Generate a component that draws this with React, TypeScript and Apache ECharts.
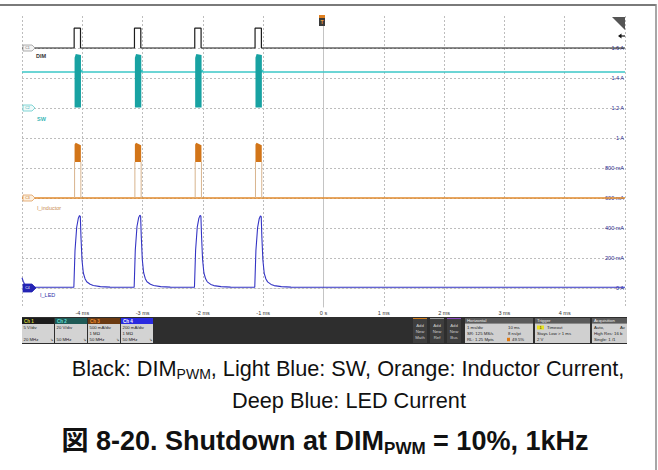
import React, { useEffect, useRef } from 'react';
import * as echarts from 'echarts';

// ---------- axes / scale data ----------
const timeWindowMs = [-5, 5];
const timeTicks = [-4, -3, -2, -1, 0, 1, 2, 3, 4];
const timeTickLabels = ['-4 ms', '-3 ms', '-2 ms', '-1 ms', '0 s', '1 ms', '2 ms', '3 ms', '4 ms'];
const gridDivs = [0, 1, 2, 3, 4, 5, 6, 7, 8];
const ch4ScaleLabels = ['0 A', '200 mA', '400 mA', '600 mA', '800 mA', '1 A', '1.2 A', '1.4 A', '1.6 A'];
const screenDivRange = [-19 / 30, 272 / 30];

// channel offsets (divisions) and scales (units / div)
const ch1Offset = 8, ch1PerDiv = 5; // V
const ch2Offset = 6, ch2PerDiv = 20; // V
const ch3Offset = 3, ch3PerDiv = 0.5; // A
const ch4Offset = 0, ch4PerDiv = 200; // mA

// ---------- Ch1 : DIM PWM ----------
const dimRiseMs = [-4.135, -3.135, -2.135, -1.135];
const dimFallMs = [-4.03, -3.03, -2.03, -1.03];
const dimLowV = 0;
const dimHighV = 3.3;

// ---------- Ch2 : SW ----------
const swIdleV = 24;
const swBurstStartMs = [-4.128, -3.128, -2.128, -1.128];
const swBurstEndMs = [-4.022, -3.022, -2.022, -1.022];
const swBurstLowV = 0.3;
const swBurstTopStartV = 33.5;
const swBurstTopV = 36;
const swBurstTopEndV = 35.3;
const swBumpStartMs = [-4.02, -3.02, -2.02, -1.02];
const swBumpPeakMs = [-4.012, -3.012, -2.012, -1.012];
const swBumpEndMs = [-4.0, -3.0, -2.0, -1.0];
const swBumpV = 25.3;

// ---------- Ch3 : Inductor current ----------
const indIdleA = 0;
const indBurstStartMs = [-4.128, -3.128, -2.128, -1.128];
const indBurstEndMs = [-4.024, -3.024, -2.024, -1.024];
const indBurstLowA = 0.6;
const indBurstTopStartA = 0.89;
const indBurstTopA = 0.92;
const indBurstTopEndA = 0.88;

// ---------- Ch4 : LED current ----------
const ledTimeMs = [
  -5, -4.98, -4.96, -4.93, -4.88, -4.8,
  -4.14, -4.121, -4.093, -4.066, -4.046, -4.033, -4.022, -4.005, -3.983, -3.955, -3.927, -3.87, -3.818, -3.7, -3.54,
  -3.14, -3.121, -3.093, -3.066, -3.046, -3.033, -3.022, -3.005, -2.983, -2.955, -2.927, -2.87, -2.818, -2.7, -2.54,
  -2.14, -2.121, -2.093, -2.066, -2.046, -2.033, -2.022, -2.005, -1.983, -1.955, -1.927, -1.87, -1.818, -1.7, -1.54,
  -1.14, -1.121, -1.093, -1.066, -1.046, -1.033, -1.022, -1.005, -0.983, -0.955, -0.927, -0.87, -0.818, -0.7, -0.54,
  0, 2, 5,
];
const ledMilliA = [
  68, 45, 28, 16, 9, 6,
  5, 250, 405, 465, 483, 478, 340, 187, 100, 62, 42, 25, 17, 9, 6,
  5, 255, 410, 468, 486, 480, 345, 190, 102, 62, 42, 25, 17, 9, 6,
  5, 252, 408, 466, 484, 479, 342, 188, 100, 61, 41, 24, 16, 9, 6,
  5, 248, 402, 462, 481, 476, 338, 185, 98, 60, 41, 24, 16, 9, 6,
  5, 5, 5,
];

const toDiv = (v: number, off: number, per: number) => off + v / per;

// ---------- series data ----------
const dimData: number[][] = [[timeWindowMs[0], dimLowV]];
dimRiseMs.forEach((r, i) => {
  dimData.push([r, dimLowV], [r, dimHighV], [dimFallMs[i], dimHighV], [dimFallMs[i], dimLowV]);
});
dimData.push([timeWindowMs[1], dimLowV]);
const dimSeries = dimData.map(([t, v]) => [t, toDiv(v, ch1Offset, ch1PerDiv)]);

const swIdle: number[][] = [[timeWindowMs[0], swIdleV]];
swBumpPeakMs.forEach((p, i) => {
  swIdle.push([swBumpStartMs[i], swIdleV], [p, swBumpV], [swBumpEndMs[i], swIdleV]);
});
swIdle.push([timeWindowMs[1], swIdleV]);
const swIdleSeries = swIdle.map(([t, v]) => [t, toDiv(v, ch2Offset, ch2PerDiv)]);

const swBursts = swBurstStartMs.map((s, i) => [
  s, swBurstEndMs[i],
  toDiv(swBurstLowV, ch2Offset, ch2PerDiv),
  toDiv(swBurstTopStartV, ch2Offset, ch2PerDiv),
  toDiv(swBurstTopV, ch2Offset, ch2PerDiv),
  toDiv(swBurstTopEndV, ch2Offset, ch2PerDiv),
  NaN,
]);

const indIdleSeries = [
  [timeWindowMs[0], toDiv(indIdleA, ch3Offset, ch3PerDiv)],
  [timeWindowMs[1], toDiv(indIdleA, ch3Offset, ch3PerDiv)],
];
const indBursts = indBurstStartMs.map((s, i) => [
  s, indBurstEndMs[i],
  toDiv(indBurstLowA, ch3Offset, ch3PerDiv),
  toDiv(indBurstTopStartA, ch3Offset, ch3PerDiv),
  toDiv(indBurstTopA, ch3Offset, ch3PerDiv),
  toDiv(indBurstTopEndA, ch3Offset, ch3PerDiv),
  toDiv(indIdleA, ch3Offset, ch3PerDiv),
]);

const ledSeries = ledTimeMs.map((t, i) => [t, toDiv(ledMilliA[i], ch4Offset, ch4PerDiv)]);

function burstRenderer(fill: string, edge: string) {
  return (_p: any, api: any) => {
    const s = api.value(0), e = api.value(1);
    const lo = api.value(2), topS = api.value(3), top = api.value(4), topE = api.value(5), base = api.value(6);
    const a = api.coord([s, lo]);
    const b = api.coord([s, topS]);
    const c = api.coord([s + (e - s) * 0.18, top]);
    const d = api.coord([e, topE]);
    const f = api.coord([e, lo]);
    const children: any[] = [];
    if (!isNaN(base)) {
      const b0 = api.coord([s, base]);
      const b1 = api.coord([e, base]);
      children.push({ type: 'line', shape: { x1: b0[0], y1: b0[1], x2: a[0], y2: a[1] }, style: { stroke: edge, lineWidth: 1 } });
      children.push({ type: 'line', shape: { x1: b1[0], y1: b1[1], x2: f[0], y2: f[1] }, style: { stroke: edge, lineWidth: 1 } });
    }
    children.push({ type: 'polygon', shape: { points: [a, b, c, d, f] }, style: { fill } });
    return { type: 'group', children };
  };
}

const FONT = "'Liberation Sans', Arial, 'Noto Sans CJK JP', sans-serif";
const UI = "'Liberation Sans', Arial, sans-serif";

function txt(x: number, y: number, text: string, fill: string, size = 4.5, extra: any = {}) {
  return { type: 'text', x, y, silent: true, style: { text, fill, font: `${extra.weight || 'normal'} ${size}px ${UI}`, align: extra.align || 'left', verticalAlign: 'middle' }, z: 20 };
}
function box(x: number, y: number, w: number, h: number, fill: string, z = 10) {
  return { type: 'rect', shape: { x, y, width: w, height: h }, style: { fill }, silent: true, z };
}
function tag(cy: number, stroke: string, fill: string, label: string, labelColor: string, big = false) {
  const hh = big ? 4 : 3;
  return [
    { type: 'polygon', shape: { points: [[23, cy - hh], [32, cy - hh], [big ? 36 : 35, cy], [32, cy + hh], [23, cy + hh]] }, style: { fill, stroke, lineWidth: 0.8 }, z: 30, silent: true },
    { ...txt(27.5, cy, label, labelColor, 3.5, { align: 'center' }), z: 31 },
  ];
}

const chBoxes = [
  { x: 22, head: '#1c1c1c', label: 'Ch 1', lc: '#d6d63a', lines: ['5 V/div', '', '20 MHz'] },
  { x: 55, head: '#1f5a56', label: 'Ch 2', lc: '#62e0d8', lines: ['20 V/div', '', '50 MHz'] },
  { x: 88, head: '#6a3a12', label: 'Ch 3', lc: '#f29232', lines: ['500 mA/div', '1 MΩ', '50 MHz'] },
  { x: 121, head: '#2a2ae0', label: 'Ch 4', lc: '#ffffff', lines: ['200 mA/div', '1 MΩ', '50 MHz'] },
];

const graphic: any[] = [];
// outer frame
graphic.push({ type: 'line', shape: { x1: 0, y1: 5, x2: 656, y2: 5 }, style: { stroke: '#7a7a7a', lineWidth: 2 }, silent: true });
graphic.push({ type: 'line', shape: { x1: 656, y1: 4, x2: 656, y2: 470 }, style: { stroke: '#8a8a8a', lineWidth: 1.5 }, silent: true });
// bottom panel
graphic.push(box(22, 317, 605, 27, '#2e2e2e', 5));
chBoxes.forEach((c) => {
  graphic.push(box(c.x, 318, 32, 6, c.head));
  graphic.push(box(c.x, 324, 32, 19, '#d3d3d3'));
  graphic.push(txt(c.x + 2, 321, c.label, c.lc, 4.5, { weight: 'bold' }));
  c.lines.forEach((l, i) => graphic.push(txt(c.x + 1.5, 327.5 + i * 6, l, '#222', 4.3)));
  graphic.push(txt(c.x + 28, 339.5, '⇘', '#333', 4));
});
[
  { x: 413, stripe: '#d08020', w: 'Math' },
  { x: 430, stripe: '#9a9a9a', w: 'Ref' },
  { x: 447, stripe: '#8a4ac0', w: 'Bus' },
].forEach((a) => {
  graphic.push(box(a.x, 318, 14, 25, '#3e3e3e'));
  graphic.push(box(a.x, 318, 14, 1, a.stripe));
  graphic.push(txt(a.x + 7, 325, 'Add', '#cfcfcf', 4.3, { align: 'center' }));
  graphic.push(txt(a.x + 7, 331, 'New', '#cfcfcf', 4.3, { align: 'center' }));
  graphic.push(txt(a.x + 7, 337, a.w, '#cfcfcf', 4.3, { align: 'center' }));
});
// Horizontal
graphic.push(box(465, 318, 68, 5.5, '#5a5a5a'));
graphic.push(box(465, 323.5, 68, 19.5, '#d0d0d0'));
graphic.push(txt(467, 320.8, 'Horizontal', '#f0f0f0', 4.3));
graphic.push(txt(467, 327.5, '1 ms/div', '#222', 4.3));
graphic.push(txt(467, 333.5, 'SR: 125 MS/s', '#222', 4.3));
graphic.push(txt(467, 339.5, 'RL: 1.25 Mpts', '#222', 4.3));
graphic.push(txt(508, 327.5, '10 ms', '#222', 4.3));
graphic.push(txt(508, 333.5, '8 ns/pt', '#222', 4.3));
graphic.push(box(507, 337.8, 3, 3.4, '#e07a10', 15));
graphic.push(txt(512, 339.5, '49.5%', '#222', 4.3));
// Trigger
graphic.push(box(535, 318, 55, 5.5, '#5a5a5a'));
graphic.push(box(535, 323.5, 55, 19.5, '#d0d0d0'));
graphic.push(txt(537, 320.8, 'Trigger', '#f0f0f0', 4.3));
graphic.push(box(537, 325.5, 7, 4, '#e8e020', 15));
graphic.push(txt(540.5, 327.5, '1', '#222', 3.8, { align: 'center' }));
graphic.push(txt(547, 327.5, 'Timeout', '#222', 4.3));
graphic.push(txt(537, 333.5, 'Stays Low > 1 ms', '#222', 4.3));
graphic.push(txt(537, 339.5, '2 V', '#222', 4.3));
// Acquisition
graphic.push(box(592, 318, 35, 5.5, '#5a5a5a'));
graphic.push(box(592, 323.5, 35, 19.5, '#d0d0d0'));
graphic.push(txt(594, 320.8, 'Acquisition', '#f0f0f0', 4.3));
graphic.push(txt(594, 327.5, 'Auto,', '#222', 4.3));
graphic.push(txt(620, 327.5, 'Av', '#222', 4.3));
graphic.push(txt(594, 333.5, 'High Res: 16 b', '#222', 4.3));
graphic.push(txt(594, 339.5, 'Single: 1 /1', '#222', 4.3));
// channel tags and names
graphic.push(...tag(48, '#9a9a9a', '#f4f4f4', 'C1', '#666'));
graphic.push(...tag(108, '#66cccc', '#effafa', 'C2', '#33aaaa'));
graphic.push(...tag(198, '#e0a060', '#fdf0e0', 'C3', '#c07020'));
graphic.push(...tag(288, '#2424b4', '#2424b4', 'C4', '#ffffff', true));
graphic.push(txt(36, 55.5, 'DIM', '#333', 5.5, { weight: 'bold' }));
graphic.push(txt(37, 119, 'SW', '#36b6b6', 5.5, { weight: 'bold' }));
graphic.push(txt(37, 208, 'I_inductor', '#c98c50', 5.5));
graphic.push(txt(40, 295, 'I_LED', '#3030a8', 5.5));
// trigger marker top
graphic.push(box(319, 15, 6, 3, '#e08020', 30));
graphic.push(box(319, 18, 6, 8, '#3a3a3a', 30));
graphic.push({ ...txt(322, 22, 'T', '#f0a040', 5, { align: 'center', weight: 'bold' }), z: 31 });
// top-right markers
graphic.push({ type: 'polygon', shape: { points: [[612, 17], [625, 17], [625, 30]] }, style: { fill: '#555' }, silent: true, z: 30 });
graphic.push({ type: 'line', shape: { x1: 620, y1: 36, x2: 625, y2: 36 }, style: { stroke: '#111', lineWidth: 1.2 }, silent: true, z: 30 });
graphic.push({ type: 'polygon', shape: { points: [[618, 36], [621.5, 33.5], [621.5, 38.5]] }, style: { fill: '#111' }, silent: true, z: 30 });
// caption
graphic.push({
  type: 'text', x: 348, y: 368, silent: true,
  style: {
    text: '{n|Black: DIM}{s|PWM}{n|, Light Blue: SW, Orange: Inductor Current,}',
    align: 'center', verticalAlign: 'middle', fill: '#111',
    rich: {
      n: { fontSize: 21.7, fontFamily: FONT, fill: '#111' },
      s: { fontSize: 14, fontFamily: FONT, fill: '#111', padding: [12, 0, 0, 0] },
    },
  },
});
graphic.push({
  type: 'text', x: 349, y: 400, silent: true,
  style: { text: 'Deep Blue: LED Current', align: 'center', verticalAlign: 'middle', fill: '#111', font: `21.7px ${FONT}` },
});
graphic.push({
  type: 'text', x: 325, y: 441, silent: true,
  style: {
    text: '{t|図 8-20. Shutdown at DIM}{s|PWM}{t| = 10%, 1kHz}',
    align: 'center', verticalAlign: 'middle', fill: '#111',
    rich: {
      t: { fontSize: 27, fontWeight: 'bold', fontFamily: FONT, fill: '#111' },
      s: { fontSize: 17, fontWeight: 'bold', fontFamily: FONT, fill: '#111', padding: [14, 0, 0, 0] },
    },
  },
});

const dotted = { color: '#bdbdbd', type: [2, 2] as any, width: 1 };

const option: any = {
  animation: false,
  backgroundColor: '#ffffff',
  grid: { left: 22, right: 33, top: 16, bottom: 163, containLabel: false },
  xAxis: [
    {
      type: 'value', min: timeWindowMs[0], max: timeWindowMs[1], interval: 1, position: 'bottom',
      axisLine: { show: false }, axisTick: { show: false },
      splitLine: { show: true, lineStyle: dotted },
      axisLabel: {
        show: true, fontSize: 5.5, color: '#333', margin: 3, fontFamily: UI,
        showMinLabel: false, showMaxLabel: false,
        formatter: (v: number) => { const i = timeTicks.indexOf(Math.round(v)); return i >= 0 ? timeTickLabels[i] : ''; },
      },
    },
    {
      type: 'value', min: timeWindowMs[0], max: timeWindowMs[1], position: 'top',
      axisLine: { show: true, lineStyle: dotted }, axisTick: { show: false },
      axisLabel: { show: false }, splitLine: { show: false },
    },
  ],
  yAxis: [
    {
      type: 'value', min: screenDivRange[0], max: screenDivRange[1], position: 'left',
      axisLine: { show: true, lineStyle: { color: '#c4c4c4', width: 1 } },
      axisTick: { show: false, customValues: gridDivs },
      axisLabel: { show: false, customValues: gridDivs },
      splitLine: { show: true, lineStyle: dotted },
    },
    {
      type: 'value', min: screenDivRange[0], max: screenDivRange[1], position: 'right',
      axisLine: { show: false }, axisTick: { show: false, customValues: gridDivs },
      splitLine: { show: false },
      axisLabel: {
        show: true, inside: true, customValues: gridDivs, fontSize: 5.5, color: '#26268a', margin: 1, fontFamily: UI,
        formatter: (v: number) => { const i = gridDivs.indexOf(Math.round(v)); return i >= 0 ? ch4ScaleLabels[i] : ''; },
      },
    },
  ],
  series: [
    {
      name: 'I_inductor idle', type: 'line', data: indIdleSeries, symbol: 'none', z: 3,
      lineStyle: { color: '#e08a2c', width: 1.4 },
    },
    {
      name: 'I_inductor burst', type: 'custom', data: indBursts, z: 4,
      encode: { x: [0, 1], y: [2, 4] },
      renderItem: burstRenderer('#d27519', '#d8b48e'),
    },
    {
      name: 'SW idle', type: 'line', data: swIdleSeries, symbol: 'none', z: 3,
      lineStyle: { color: '#3cc8c8', width: 1.5 },
    },
    {
      name: 'SW burst', type: 'custom', data: swBursts, z: 4,
      encode: { x: [0, 1], y: [2, 4] },
      renderItem: burstRenderer('#18a2a2', '#18a2a2'),
    },
    {
      name: 'I_LED', type: 'line', data: ledSeries, symbol: 'none', z: 5,
      lineStyle: { color: '#3434c4', width: 1.1 },
    },
    {
      name: 'DIM', type: 'line', data: dimSeries, symbol: 'none', z: 6,
      lineStyle: { color: '#1c1c1c', width: 1.2 },
    },
  ],
  graphic,
};

export default function App() {
  const ref = useRef<HTMLDivElement>(null);
  useEffect(() => {
    if (!ref.current) return;
    const chart = echarts.init(ref.current, null, { renderer: 'svg' });
    chart.setOption(option);
    return () => chart.dispose();
  }, []);
  return (
    <div
      ref={ref}
      style={{ position: 'absolute', left: 0, top: 0, width: 658, height: 470, background: '#fff' }}
    />
  );
}
